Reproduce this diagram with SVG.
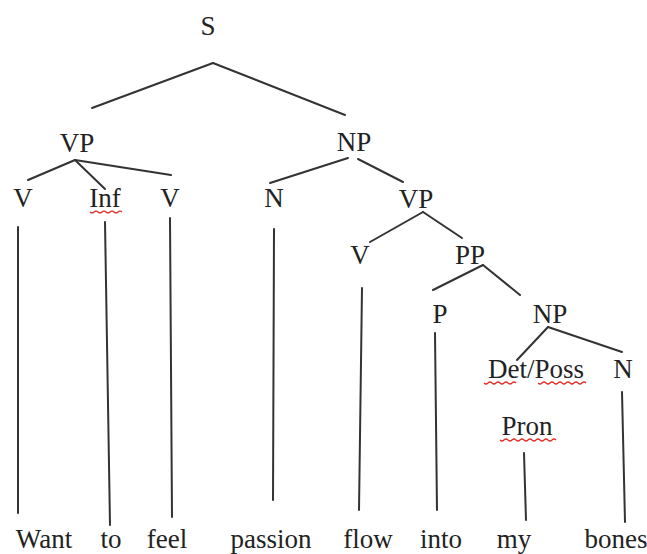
<svg xmlns="http://www.w3.org/2000/svg" width="647" height="554" viewBox="0 0 647 554">
<style>
.t text{font-size:27px;fill:#222;text-anchor:middle}
.e{stroke:#333;stroke-width:2;fill:none;stroke-linecap:round}
.sq{stroke:#e0302a;stroke-width:1.2;fill:none}
</style>
<rect width="647" height="554" fill="#fff"/>
<g id="connectors">
<line class="e" x1="213" y1="63" x2="92" y2="108"/>
<line class="e" x1="213" y1="63" x2="345" y2="115"/>
<line class="e" x1="75" y1="160" x2="28" y2="180"/>
<line class="e" x1="75" y1="160" x2="105" y2="189"/>
<line class="e" x1="75" y1="160" x2="171" y2="175"/>
<line class="e" x1="348" y1="158" x2="270" y2="183"/>
<line class="e" x1="358" y1="159" x2="403" y2="182"/>
<line class="e" x1="423" y1="212" x2="370" y2="242"/>
<line class="e" x1="423" y1="212" x2="462" y2="238"/>
<line class="e" x1="483" y1="265" x2="433" y2="290"/>
<line class="e" x1="483" y1="265" x2="520" y2="295"/>
<line class="e" x1="548" y1="327" x2="517" y2="360"/>
<line class="e" x1="548" y1="327" x2="622" y2="352"/>
<line class="e" x1="18" y1="227" x2="18" y2="513"/>
<line class="e" x1="105" y1="222" x2="110" y2="525"/>
<line class="e" x1="170" y1="218" x2="172" y2="517"/>
<line class="e" x1="274" y1="229" x2="273" y2="500"/>
<line class="e" x1="362" y1="288" x2="359" y2="510"/>
<line class="e" x1="435" y1="333" x2="437" y2="510"/>
<line class="e" x1="524" y1="453" x2="526" y2="520"/>
<line class="e" x1="622" y1="392" x2="625" y2="522"/>
</g>
<g class="t" font-family="Liberation Serif, Times New Roman, serif">
<g id="n-S"><text x="208" y="35">S</text></g>
<g id="n-VP1"><text x="77" y="152">VP</text></g>
<g id="n-NP1"><text x="354" y="151">NP</text></g>
<g id="n-V1"><text x="23" y="207">V</text></g>
<g id="n-Inf"><text x="105" y="207">Inf</text><path class="sq" d="M90 212 q2 2 4 0 t4 0 t4 0 t4 0 t4 0 t4 0 t4 0 t4 0"/></g>
<g id="n-V2"><text x="170" y="207">V</text></g>
<g id="n-N1"><text x="274" y="207">N</text></g>
<g id="n-VP2"><text x="416" y="208">VP</text></g>
<g id="n-V3"><text x="360" y="264">V</text></g>
<g id="n-PP"><text x="470" y="264">PP</text></g>
<g id="n-P"><text x="440" y="323">P</text></g>
<g id="n-NP2"><text x="550" y="323">NP</text></g>
<g id="n-Det"><text x="536" y="378">Det/Poss</text><path class="sq" d="M484 383 q2 2 4 0 t4 0 t4 0 t4 0 t4 0 t4 0 t4 0 t4 0 M538 383 q2 2 4 0 t4 0 t4 0 t4 0 t4 0 t4 0 t4 0 t4 0 t4 0 t4 0 t4 0 t4 0"/></g>
<g id="n-N2"><text x="623" y="378">N</text></g>
<g id="n-Pron"><text x="527" y="435">Pron</text><path class="sq" d="M500 440 q2 2 4 0 t4 0 t4 0 t4 0 t4 0 t4 0 t4 0 t4 0 t4 0 t4 0 t4 0 t4 0 t4 0 t4 0"/></g>
<g id="w-Want"><text x="44" y="548">Want</text></g>
<g id="w-to"><text x="111" y="548">to</text></g>
<g id="w-feel"><text x="167" y="548">feel</text></g>
<g id="w-passion"><text x="271" y="548">passion</text></g>
<g id="w-flow"><text x="368" y="548">flow</text></g>
<g id="w-into"><text x="441" y="548">into</text></g>
<g id="w-my"><text x="514" y="548">my</text></g>
<g id="w-bones"><text x="616" y="548">bones</text></g>
</g>
</svg>
